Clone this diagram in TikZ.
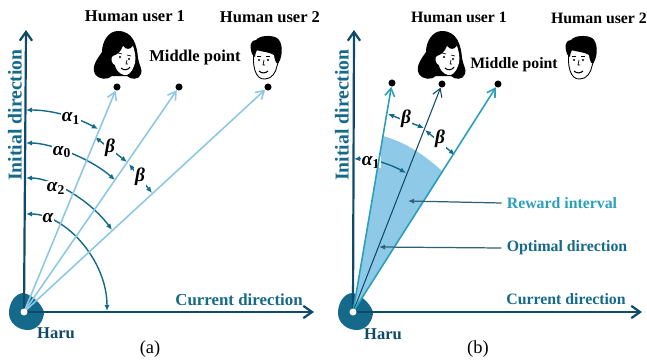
\documentclass[tikz,border=0pt]{standalone}
\usepackage{fontspec}
\setmainfont{Liberation Serif}
\usetikzlibrary{arrows.meta,calc}
\definecolor{navyaxis}{HTML}{0F4A68}
\definecolor{tealarc}{HTML}{15698A}
\definecolor{skyray}{HTML}{8CC8E6}
\definecolor{cyanray}{HTML}{2A9FBC}
\definecolor{wedgeblue}{HTML}{8FC9E8}
\definecolor{hintgray}{HTML}{2F6078}

\begin{document}
\begin{tikzpicture}[x=0.02cm, y=-0.02cm, >=Latex]

% styles
\tikzset{
  axisline/.style={-{Straight Barb[length=5pt,width=7pt]}, line width=1.25pt, navyaxis},
  skyline/.style={-{Straight Barb[length=4.5pt,width=5.5pt]}, line width=0.9pt, skyray},
  cyanline/.style={-{Straight Barb[length=4.5pt,width=5.5pt]}, line width=0.9pt, cyanray},
  midline/.style={-{Straight Barb[length=4.5pt,width=5.5pt]}, line width=0.6pt, navyaxis},
  arcline/.style={{Latex[length=3.5pt,width=3pt]}-{Latex[length=3.5pt,width=3pt]}, line width=0.8pt, tealarc},
  hintline/.style={-{Latex[length=3.5pt,width=3pt]}, line width=0.7pt, hintgray},
  target/.style={circle, fill=black, inner sep=0pt, minimum size=4pt},
  txt/.style={font=\bfseries\fontsize{#1}{11}\selectfont, inner sep=0pt},
  txt/.default=9.4,
  greek/.style={font=\bfseries\itshape\fontsize{11}{12}\selectfont, fill=white, inner sep=0.5pt},
  pics/haru/.style={code={
    \fill[tealarc] (0,-19) .. controls (-9,-19) and (-15,-9) .. (-15,1)
      .. controls (-15,11) and (-6,18) .. (4,18)
      .. controls (14,18) and (20,8) .. (20,0)
      .. controls (18,-7) and (10,-16) .. (0,-19) -- cycle;
  }},
  pics/womanface/.style={code={
    \fill[black] (118,31) .. controls (133,31) and (137,45) .. (138,58)
      .. controls (139,65) and (143,70) .. (141,74)
      .. controls (139,80) and (131,80) .. (127,76) -- (112,76)
      .. controls (108,80) and (99,80) .. (95,74)
      .. controls (91,66) and (98,58) .. (102,52)
      .. controls (102,42) and (108,31) .. (118,31) -- cycle;
    \fill[white] (113,56) .. controls (117,55) and (121,52) .. (123,46)
      .. controls (126,50) and (130,50) .. (133,46)
      .. controls (136,55) and (136,62) .. (134,66)
      .. controls (132,72) and (128,76) .. (124,75)
      .. controls (119,74) and (115,68) .. (115,65)
      .. controls (112,65) and (110,57) .. (113,56) -- cycle;
    \fill[black] (120,57) circle (1.2) (129,59) circle (1.2);
    \draw[line width=0.4pt] (118,53) -- (122,54) (127,55) -- (131,56);
    \draw[line width=0.4pt] (127,60) -- (126,64) -- (128,64);
    \draw[line width=0.6pt] (121,68) .. controls (124,71) and (128,70) .. (130,67);
  }},
  pics/manface/.style={code={
    \draw[fill=white, line width=0.5pt] (254,50) .. controls (252,65) and (255,80) .. (265,79)
      .. controls (272,79) and (276,72) .. (277,66) -- (279,60) -- (276,50) -- cycle;
    \fill[black] (252,54) .. controls (249,45) and (251,40) .. (256,40)
      .. controls (260,35) and (272,35) .. (277,38)
      .. controls (283,42) and (283,55) .. (279,62)
      .. controls (277,66) and (275,62) .. (274,55)
      .. controls (270,52) and (262,52) .. (257,50)
      .. controls (256,52) and (255,54) .. (255,57) -- cycle;
    \fill[black] (259,60) circle (1.1) (268,60) circle (1.1);
    \draw[line width=0.4pt] (257,56) -- (261,56) (266,56) -- (270,56);
    \draw[line width=0.4pt] (264,60) -- (263,65) -- (265,65);
    \draw[line width=0.6pt] (259,71) .. controls (262,74) and (266,73) .. (268,71);
  }},
}

\useasboundingbox (0,0) rectangle (647,362);

% ---- panel (a) ----
\coordinate (baseA) at (24,312);
\pic at (baseA) {haru};
\pic at (0,0) {womanface};
\pic at (0,0) {manface};

% points in front of the robot
\node[target] (userOneA) at (117,87) {};
\node[target] (middleA) at (179,87) {};
\node[target] (userTwoA) at (268,87) {};

% axes
\coordinate (topA) at (26,30);
\coordinate (rightA) at (314,312);
\draw[axisline] (baseA) -- (topA);
\draw[axisline] (baseA) -- (rightA);

% angle arcs
\draw[arcline] (26,110) .. controls (52,110) and (76,117) .. (98,129);
\draw[arcline] (26,143) .. controls (50,143) and (90,158) .. (115,180);
\draw[arcline] (26,178) .. controls (52,178) and (90,200) .. (112,230);
\draw[arcline] (26,214) .. controls (65,214) and (107,260) .. (107,311);
\draw[arcline] (95,137) -- (127,162);
\draw[arcline] (129,164) -- (152,193);
\node[greek] (alphaOneA) at (71,118) {α\textsubscript{\normalfont\bfseries 1}};
\node[greek] (alphaZeroA) at (62,152) {α\textsubscript{\normalfont\bfseries 0}};
\node[greek] (alphaTwoA) at (56,188) {α\textsubscript{\normalfont\bfseries 2}};
\node[greek] (alphaA) at (48,218) {α};
\node[greek] (betaOneA) at (110,148) {β};
\node[greek] (betaTwoA) at (140,177) {β};

% rays
\draw[skyline] (baseA) -- (userOneA);
\draw[skyline] (baseA) -- (middleA);
\draw[skyline] (baseA) -- (userTwoA);
\fill[white] (baseA) circle (3.5);

% labels
\node[txt] (userOneTxtA) at (135,16) {Human user 1};
\node[txt] (userTwoTxtA) at (270,17) {Human user 2};
\node[txt] (middleTxtA) at (195,58) {Middle point};
\node[txt={11.2}, rotate=90, text=tealarc] (initialA) at (15,115) {Initial direction};
\node[txt={9.6}, text=tealarc] (currentA) at (239,300) {Current direction};
\node[txt, text=navyaxis] (haruA) at (56,333) {Haru};
\node[font=\fontsize{10.5}{12}\selectfont, inner sep=0pt] (capA) at (150,349) {(a)};

% ---- panel (b) ----
\coordinate (baseB) at (353,312);
\pic at (baseB) {haru};
\pic at (324,0) {womanface};
\pic at (315,0) {manface};

\node[target] (leftB) at (392,83) {};
\node[target] (middleB) at (442,84) {};
\node[target] (rightB) at (498,84) {};

% reward wedge
\fill[wedgeblue] (baseB) -- (383,136) .. controls (405,142) and (425,155) .. (443,172) -- cycle;

% axes
\coordinate (topB) at (354,30);
\coordinate (rightB2) at (642,312);
\draw[axisline] (baseB) -- (topB);
\draw[axisline] (baseB) -- (rightB2);

% angle arcs
\draw[arcline] (354,159) .. controls (372,158) and (392,165) .. (406,173);
\draw[arcline] (388,114) -- (424,128);
\draw[arcline] (425,130) -- (455,155);
\node[greek, inner sep=0.2pt] (alphaOneB) at (371,162) {α\textsubscript{\normalfont\bfseries 1}};
\node[greek] (betaOneB) at (406,119) {β};
\node[greek] (betaTwoB) at (440,139) {β};

% rays
\draw[cyanline] (baseB) -- (leftB);
\draw[midline] (baseB) -- (middleB);
\draw[cyanline] (baseB) -- (rightB);
\fill[white] (baseB) circle (3.5);

% labels
\node[txt={9}] (userOneTxtB) at (459,17) {Human user 1};
\node[txt={9}] (userTwoTxtB) at (599,18) {Human user 2};
\node[txt={9}] (middleTxtB) at (514,65) {Middle point};
\node[txt={11.2}, rotate=90, text=tealarc] (initialB) at (342,115) {Initial direction};
\node[txt={9}, text=cyanray] (rewardTxt) at (562,203) {Reward interval};
\node[txt={9}, text=tealarc] (optimalTxt) at (567,248) {Optimal direction};
\node[txt={9}, text=tealarc] (currentB) at (566,299) {Current direction};
\node[txt, text=navyaxis] (haruB) at (383,334) {Haru};
\node[font=\fontsize{10.5}{12}\selectfont, inner sep=0pt] (capB) at (478,349) {(b)};

% pointers
\coordinate (rewardEnd) at (408,201);
\coordinate (optimalEnd) at (379,247);
\draw[hintline] (rewardTxt.west) ++(-5,0) -- (rewardEnd);
\draw[hintline] (optimalTxt.west) ++(-5,0) -- (optimalEnd);

\end{tikzpicture}
\end{document}
